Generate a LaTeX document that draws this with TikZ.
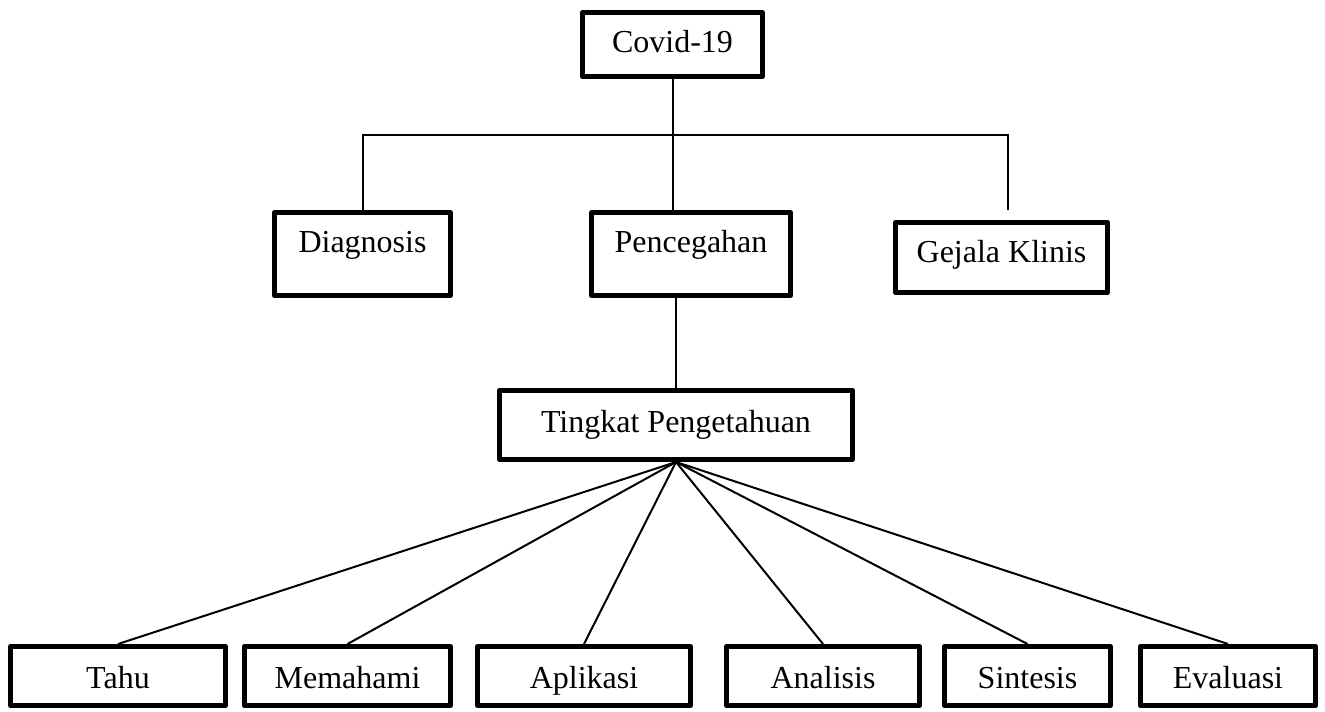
\documentclass[tikz,border=0pt]{standalone}
\usepackage{fontspec}
\setmainfont{Liberation Serif}

\begin{document}
\begin{tikzpicture}[x=0.5pt,y=-0.5pt,
  box/.style={draw,line width=2.5pt,line join=round,inner sep=0pt,anchor=base,font=\fontsize{16}{19}\selectfont},
  leaf/.style={box,text height=20.75pt,text depth=8.75pt},
  link/.style={line width=1pt}]
\useasboundingbox (0,0) rectangle (1325,711);
% upper levels
\node[box,minimum width=90pt,text height=20.25pt,text depth=11.75pt] (covid) at (672.5,53) {Covid-19};
\node[box,minimum width=88pt,text height=19.75pt,text depth=21.75pt] (diag) at (362.5,252) {Diagnosis};
\node[box,minimum width=99.5pt,text height=19.75pt,text depth=21.75pt] (penc) at (691,252) {Pencegahan};
\node[box,minimum width=106pt,text height=19.75pt,text depth=15.25pt] (gejala) at (1001.5,262) {Gejala Klinis};
\node[box,minimum width=176.5pt,text height=20.75pt,text depth=13.75pt] (tingkat) at (676,432) {Tingkat Pengetahuan};
% bottom row
\node[leaf,minimum width=107.5pt] (tahu) at (118,688) {Tahu};
\node[leaf,minimum width=103pt] (memahami) at (347.5,688) {Memahami};
\node[leaf,minimum width=106.5pt] (aplikasi) at (584,688) {Aplikasi};
\node[leaf,minimum width=96.5pt] (analisis) at (823,688) {Analisis};
\node[leaf,minimum width=83pt] (sintesis) at (1027.5,688) {Sintesis};
\node[leaf,minimum width=87.5pt] (evaluasi) at (1228,688) {Evaluasi};
% connectors
\coordinate (busL) at (362.5,135); \coordinate (busR) at (1008,135);
\coordinate (gejtop) at (1008,210);
\draw[link] (covid.south) -- (covid.south |- penc.north);
\draw[link] (diag.north) -- (busL) -- (busR) -- (gejtop);
\draw[link] (tingkat.north) -- (tingkat.north |- penc.south);
\draw[link] (tingkat.south) -- (tahu.north);
\draw[link] (tingkat.south) -- (memahami.north);
\draw[link] (tingkat.south) -- (aplikasi.north);
\draw[link] (tingkat.south) -- (analisis.north);
\draw[link] (tingkat.south) -- (sintesis.north);
\draw[link] (tingkat.south) -- (evaluasi.north);
\end{tikzpicture}
\end{document}
